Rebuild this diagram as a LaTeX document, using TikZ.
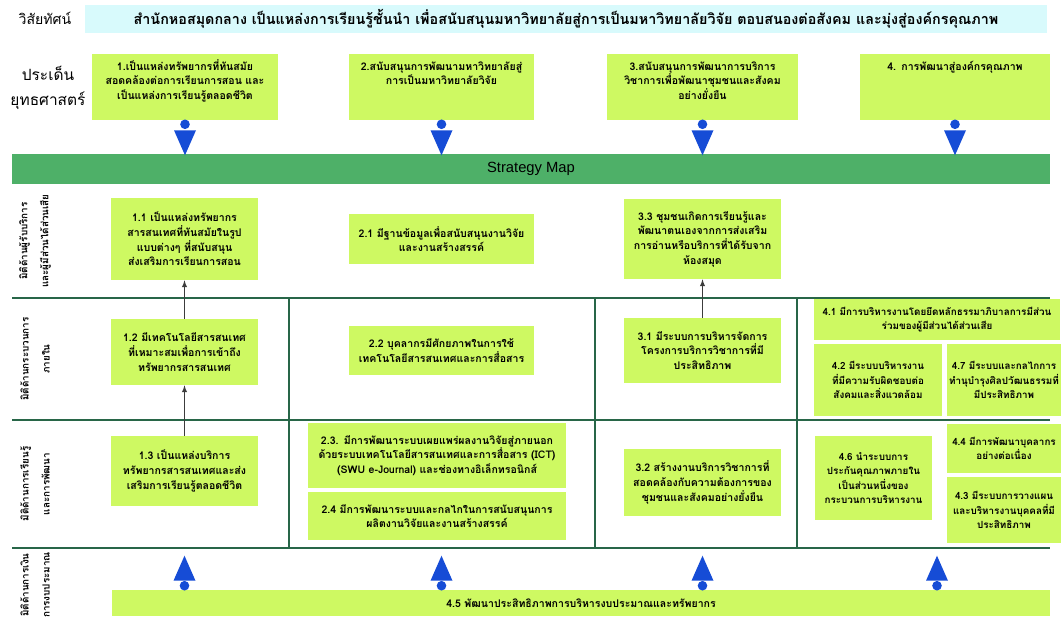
\documentclass[tikz,border=0pt]{standalone}
\usepackage{fontspec}
\newfontfamily\thaifont[Script=Thai]{Loma}
\newfontfamily\latinfont{Liberation Sans}
\usetikzlibrary{calc}

\newdimen\pxu
\pxu=0.025cm

\definecolor{goalgreen}{RGB}{206,249,98}
\definecolor{bargreen}{RGB}{78,176,104}
\definecolor{visioncyan}{RGB}{216,250,252}
\definecolor{linegreen}{RGB}{40,102,72}
\definecolor{markerblue}{RGB}{22,76,214}
\definecolor{flowgray}{RGB}{60,60,60}

\tikzset{
  goal/.style={rectangle, fill=goalgreen, align=center, inner xsep=1pt, inner ysep=3pt,
    font=\thaifont\bfseries\fontsize{7.5}{10.4}\selectfont},
  smallgoal/.style={goal, font=\thaifont\bfseries\fontsize{7}{10.4}\selectfont},
  topgoal/.style={goal, text height=8pt, text depth=32pt},
  dimline/.style={draw=linegreen, line width=0.9pt},
  dimlabel/.style={rotate=90, align=center, font=\thaifont\bfseries\fontsize{7}{15}\selectfont},
  flow/.style={-latex, draw=flowgray, line width=0.7pt},
}

\begin{document}
\begin{tikzpicture}[x=0.025cm, y=-0.025cm]
  \useasboundingbox (0,0) rectangle (1061,618);

  % Header
  \node (vlabel) [font=\thaifont\fontsize{10}{12}\selectfont] at (45,18) {วิสัยทัศน์};
  \node (vision) [rectangle, fill=visioncyan, minimum width=962\pxu, minimum height=28\pxu,
    font=\thaifont\bfseries\fontsize{10.2}{12}\selectfont] at (566,19)
    {สำนักหอสมุดกลาง เป็นแหล่งการเรียนรู้ชั้นนำ เพื่อสนับสนุนมหาวิทยาลัยสู่การเป็นมหาวิทยาลัยวิจัย ตอบสนองต่อสังคม และมุ่งสู่องค์กรคุณภาพ};
  \node (slabel) [align=center, font=\thaifont\fontsize{11}{17.7}\selectfont] at (48,88) {ประเด็น\\ยุทธศาสตร์};

  % Strategic issues
  \node (s1) [topgoal, minimum width=186\pxu, minimum height=66\pxu, text width=182\pxu] at (185,87)
    {1.เป็นแหล่งทรัพยากรที่ทันสมัย\\สอดคล้องต่อการเรียนการสอน และ\\เป็นแหล่งการเรียนรู้ตลอดชีวิต};
  \node (s2) [topgoal, minimum width=185\pxu, minimum height=66\pxu, text width=181\pxu] at (441.5,87)
    {2.สนับสนุนการพัฒนามหาวิทยาลัยสู่\\การเป็นมหาวิทยาลัยวิจัย};
  \node (s3) [topgoal, minimum width=191\pxu, minimum height=66\pxu, text width=187\pxu] at (702.5,87)
    {3.สนับสนุนการพัฒนาการบริการ\\วิชาการเพื่อพัฒนาชุมชนและสังคม\\อย่างยั่งยืน};
  \node (s4) [topgoal, minimum width=190\pxu, minimum height=66\pxu, text width=186\pxu] at (955,87)
    {4. การพัฒนาสู่องค์กรคุณภาพ};

  \node (bar) [rectangle, fill=bargreen, minimum width=1038\pxu, minimum height=30\pxu,
    font=\latinfont\fontsize{10.5}{12}\selectfont] at (531,169) {Strategy Map};

  % Blue markers down to the bar
  \foreach \s in {s1,s2,s3,s4}{
    \fill[markerblue] ($(\s.south)+(0,4)$) circle (0.12cm);
    \fill[markerblue] ($(\s.south)+(-11,10)$) -- ($(\s.south)+(11,10)$) -- ($(\s.south)+(0,35)$) -- cycle;
  }

  % Row labels
  \node (r1) [dimlabel] at (35,241) {มิติด้านผู้รับบริการ\\และผู้มีส่วนได้ส่วนเสีย};
  \node (r2) [dimlabel] at (35,359) {มิติด้านกระบวนการ\\ภายใน};
  \node (r3) [dimlabel] at (35,484) {มิติด้านการเรียนรู้\\และการพัฒนา};
  \node (r4) [dimlabel] at (35,585) {มิติด้านการเงิน\\การงบประมาณ};

  % Grid lines
  \draw[dimline] (12,298) -- (1050,298);
  \draw[dimline] (12,420) -- (1050,420);
  \draw[dimline] (12,548) -- (1050,548);
  \draw[dimline] (289,298) -- (289,548);
  \draw[dimline] (595,298) -- (595,548);
  \draw[dimline] (797,298) -- (797,548);

  % Customer row
  \node (b11) [goal, minimum width=147\pxu, minimum height=82\pxu, text width=145\pxu] at (184.5,239)
    {1.1 เป็นแหล่งทรัพยากร\\สารสนเทศที่ทันสมัยในรูป\\แบบต่างๆ ที่สนับสนุน\\ส่งเสริมการเรียนการสอน};
  \node (b21) [goal, minimum width=185\pxu, minimum height=50\pxu, text width=181\pxu] at (441.5,239)
    {2.1 มีฐานข้อมูลเพื่อสนับสนุนงานวิจัย\\และงานสร้างสรรค์};
  \node (b33) [goal, minimum width=157\pxu, minimum height=80\pxu, text width=155\pxu] at (702.5,239)
    {3.3 ชุมชนเกิดการเรียนรู้และ\\พัฒนาตนเองจากการส่งเสริม\\การอ่านหรือบริการที่ได้รับจาก\\ห้องสมุด};

  % Internal process row
  \node (b12) [goal, minimum width=147\pxu, minimum height=66\pxu, text width=145\pxu] at (184.5,352)
    {1.2 มีเทคโนโลยีสารสนเทศ\\ที่เหมาะสมเพื่อการเข้าถึง\\ทรัพยากรสารสนเทศ};
  \node (b22) [goal, minimum width=185\pxu, minimum height=49\pxu, text width=181\pxu] at (441.5,350.5)
    {2.2 บุคลากรมีศักยภาพในการใช้\\เทคโนโลยีสารสนเทศและการสื่อสาร};
  \node (b31) [goal, minimum width=157\pxu, minimum height=65\pxu, text width=155\pxu] at (702.5,350.5)
    {3.1 มีระบบการบริหารจัดการ\\โครงการบริการวิชาการที่มี\\ประสิทธิภาพ};
  \node (b41) [smallgoal, minimum width=246\pxu, minimum height=41\pxu, text width=244\pxu] at (937,319.5)
    {4.1 มีการบริหารงานโดยยึดหลักธรรมาภิบาลการมีส่วน\\ร่วมของผู้มีส่วนได้ส่วนเสีย};
  \node (b42) [smallgoal, minimum width=128\pxu, minimum height=72\pxu, text width=126\pxu] at (878,380)
    {4.2 มีระบบบริหารงาน\\ที่มีความรับผิดชอบต่อ\\สังคมและสิ่งแวดล้อม};
  \node (b47) [smallgoal, minimum width=114\pxu, minimum height=72\pxu, text width=112\pxu] at (1004,380)
    {4.7 มีระบบและกลไกการ\\ทำนุบำรุงศิลปวัฒนธรรมที่\\มีประสิทธิภาพ};

  % Learning and growth row
  \node (b13) [goal, minimum width=147\pxu, minimum height=70\pxu, text width=145\pxu] at (184.5,471)
    {1.3 เป็นแหล่งบริการ\\ทรัพยากรสารสนเทศและส่ง\\เสริมการเรียนรู้ตลอดชีวิต};
  \node (b23) [goal, minimum width=258\pxu, minimum height=65\pxu, text width=256\pxu] at (437,455.5)
    {2.3. มีการพัฒนาระบบเผยแพร่ผลงานวิจัยสู่ภายนอก\\ด้วยระบบเทคโนโลยีสารสนเทศและการสื่อสาร (ICT)\\(SWU e-Journal) และช่องทางอิเล็กทรอนิกส์};
  \node (b24) [goal, minimum width=258\pxu, minimum height=48\pxu, text width=256\pxu] at (437,516)
    {2.4 มีการพัฒนาระบบและกลไกในการสนับสนุนการ\\ผลิตงานวิจัยและงานสร้างสรรค์};
  \node (b32) [goal, minimum width=157\pxu, minimum height=67\pxu, text width=155\pxu] at (702.5,482.5)
    {3.2 สร้างงานบริการวิชาการที่\\สอดคล้องกับความต้องการของ\\ชุมชนและสังคมอย่างยั่งยืน};
  \node (b46) [smallgoal, minimum width=117\pxu, minimum height=84\pxu, text width=115\pxu] at (873.5,478)
    {4.6 นำระบบการ\\ประกันคุณภาพภายใน\\เป็นส่วนหนึ่งของ\\กระบวนการบริหารงาน};
  \node (b44) [smallgoal, minimum width=114\pxu, minimum height=49\pxu, text width=112\pxu] at (1004,448.5)
    {4.4 มีการพัฒนาบุคลากร\\อย่างต่อเนื่อง};
  \node (b43) [smallgoal, minimum width=114\pxu, minimum height=66\pxu, text width=112\pxu] at (1004,510)
    {4.3 มีระบบการวางแผน\\และบริหารงานบุคคลที่มี\\ประสิทธิภาพ};

  % Finance row
  \node (b45) [goal, minimum width=938\pxu, minimum height=26\pxu, text width=930\pxu] at (581,603)
    {4.5 พัฒนาประสิทธิภาพการบริหารงบประมาณและทรัพยากร};

  % Blue markers up from the finance box
  \foreach \c in {b12,b22,b31,b41}{
    \coordinate (m) at (\c |- b45.north);
    \fill[markerblue] ($(m)+(0,-4)$) circle (0.12cm);
    \fill[markerblue] ($(m)+(-11,-9)$) -- ($(m)+(11,-9)$) -- ($(m)+(0,-34)$) -- cycle;
  }

  % Arrows
  \draw[flow] (b13.north) -- (b12.south);
  \draw[flow] (b12.north) -- (b11.south);
  \draw[flow] (b31.north) -- (b33.south);
\end{tikzpicture}
\end{document}
